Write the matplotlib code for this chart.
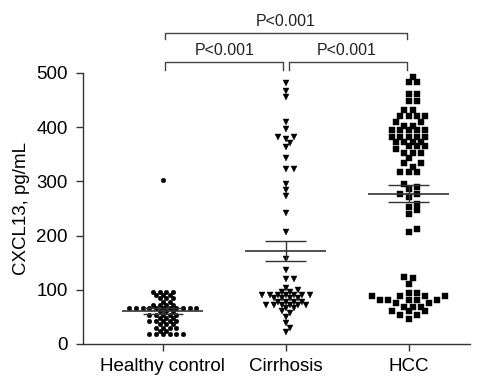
import matplotlib
matplotlib.use("Agg")
import matplotlib.pyplot as plt
import numpy as np

plt.rcParams["font.family"] = ["Liberation Sans", "DejaVu Sans"]

# ---- data (pg/mL) ----
groups = ["Healthy control", "Cirrhosis", "HCC"]

healthy = [302,
           96, 96, 96, 96, 90, 90, 90, 84, 84, 84, 78, 78,
           72, 72, 72, 72,
           66, 66, 66, 66, 66, 66, 66, 66, 66, 66, 66,
           60, 60, 60, 54, 54, 54, 54, 54, 48, 48, 48,
           42, 42, 42, 42, 42, 36, 36, 36, 30, 30, 30, 30,
           24, 24, 18, 18, 18, 18, 18, 18]

cirrhosis = [481, 466, 455, 410, 396, 381, 381, 378, 370, 363, 344, 322, 322,
             296, 284, 273, 242, 206,
             156, 136, 120, 120, 103, 100,
             96, 96, 90, 90, 90, 90, 90, 90, 90,
             84, 84, 84, 84, 78, 78, 78, 78,
             72, 72, 72, 72, 72, 72, 66, 66, 60,
             57, 50, 38, 30, 22]

hcc = [493, 483, 483, 462, 462, 449, 449, 431, 431, 421, 421, 421, 421,
       409, 409, 402, 402, 394, 394, 394, 394, 394,
       381, 381, 381, 381, 381, 373, 373, 373, 373, 365, 365, 365, 359,
       352, 352, 352, 343, 334, 334, 327, 318, 318, 318,
       296, 290, 286, 277, 277, 272, 258, 253, 247, 240, 213, 207,
       123, 121, 111, 95, 95, 88, 88, 88, 88,
       81, 81, 81, 81, 81, 75, 75, 69, 69, 69, 61, 61, 61, 54, 54, 47]

series = [healthy, cirrhosis, hcc]
markers = ["o", "v", "s"]
msizes = [3.3, 4.0, 3.7]
spacing_px = [6.7, 8.0, 8.2]
mindist_px = [4.6, 5.0, 5.6]

comparisons = [(0, 1, "P<0.001", 505, 520),
               (1, 2, "P<0.001", 505, 520),
               (0, 2, "P<0.001", 563, 574)]

yticks = [0, 100, 200, 300, 400, 500]

fig = plt.figure(figsize=(4.84, 3.78), dpi=100)
ax = fig.add_axes([83 / 484, 34 / 378, 387 / 484, 271 / 378])
ax.set_xlim(-0.65, 2.5)
ax.set_ylim(0, 500)


def swarm_offsets(values, center, step_px, dmin):
    """Beeswarm on a half-step grid in pixel space; returns x in data units."""
    pts = ax.transData.transform(np.column_stack([np.full(len(values), center), values]))
    half = step_px / 2
    order = np.argsort(values, kind="stable")
    placed = []
    xs = np.zeros(len(values))
    for i in order:
        x0, y0 = pts[i]
        k = 0
        while True:
            col = (k + 1) // 2 * (1 if k % 2 == 1 else -1)
            cand = x0 + col * half
            if all(np.hypot(cand - px, y0 - py) >= dmin for px, py in placed):
                break
            k += 1
        placed.append((cand, y0))
        xs[i] = cand
    back = ax.transData.inverted().transform(np.column_stack([xs, pts[:, 1]]))
    return back[:, 0]


line_col = "#333333"
for i, vals in enumerate(series):
    vals = np.asarray(vals, dtype=float)
    xs = swarm_offsets(vals, i, spacing_px[i], mindist_px[i])
    ax.plot(xs, vals, linestyle="none", marker=markers[i], ms=msizes[i],
            mfc="black", mec="black", mew=0.3, clip_on=False, zorder=3)
    m = vals.mean()
    sem = vals.std(ddof=1) / np.sqrt(len(vals))
    ax.hlines(m, i - 0.33, i + 0.33, color=line_col, lw=1.2, zorder=4)
    ax.hlines([m - sem, m + sem], i - 0.165, i + 0.165, color=line_col, lw=1.0, zorder=4)
    ax.vlines(i, m - sem, m + sem, color=line_col, lw=1.0, zorder=4)

# significance brackets
br_col = "#444444"
for a, b, label, y_lo, y_hi in comparisons:
    xa = a + (0.025 if a == 1 else 0.015)
    xb = b - (0.025 if b == 1 else 0.015)
    ax.plot([xa, xa, xb, xb], [y_lo, y_hi, y_hi, y_lo], color=br_col, lw=1.0,
            clip_on=False)
    ax.text((a + b) / 2, y_hi + 7, label, ha="center", va="bottom",
            fontsize=11.5, color="#222222", clip_on=False)

ax.set_xticks(range(len(groups)))
ax.set_xticklabels(groups, fontsize=13.5)
ax.set_yticks(yticks)
ax.set_yticklabels([str(t) for t in yticks], fontsize=13.5)
ax.set_ylabel("CXCL13, pg/mL", fontsize=13.5)
ax.yaxis.set_label_coords(-0.137, 0.5)
ax.tick_params(axis="both", direction="out", length=5, width=1.0, colors="#333333",
               labelcolor="black")
ax.tick_params(axis="x", pad=5)
ax.tick_params(axis="y", pad=6)
for side in ("top", "right"):
    ax.spines[side].set_visible(False)
for side in ("left", "bottom"):
    ax.spines[side].set_linewidth(1.0)
    ax.spines[side].set_color("#333333")

fig.savefig("out.png", dpi=100)
